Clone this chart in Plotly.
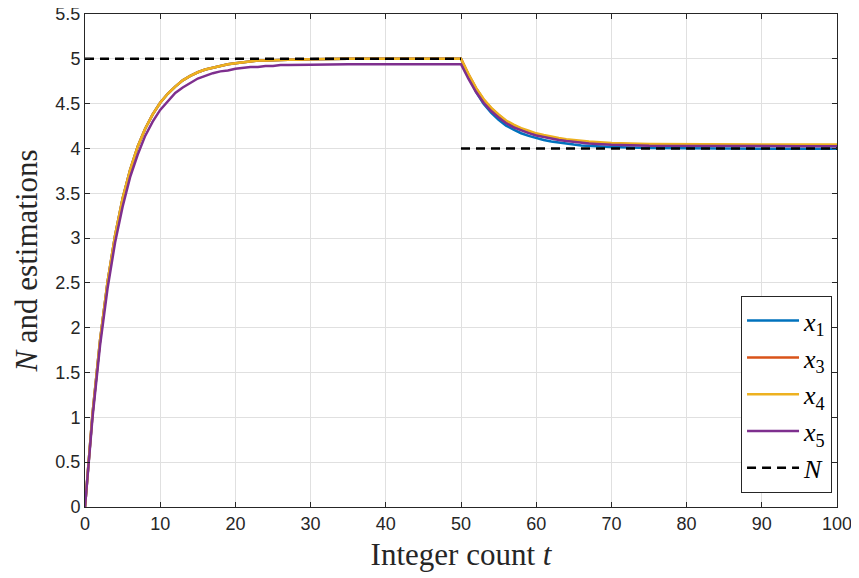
import plotly.graph_objects as go

# time samples
t = list(range(0, 31)) + [35, 40, 45, 50] + list(range(51, 71)) + [75, 80, 85, 90, 95, 100]

rise_top = [0, 1.04, 1.86, 2.51, 3.03, 3.44, 3.76, 4.02, 4.22, 4.38, 4.51, 4.61, 4.69, 4.76,
            4.81, 4.85, 4.88, 4.90, 4.92, 4.94, 4.95, 4.96, 4.97, 4.98, 4.98, 4.985, 4.99,
            4.99, 4.99, 4.995, 4.995, 5.0, 5.0, 5.0, 5.0]

x1 = rise_top + [4.80, 4.63, 4.50, 4.40, 4.32, 4.255, 4.21, 4.17, 4.14, 4.115, 4.095, 4.078,
                 4.064, 4.053, 4.043, 4.034, 4.028, 4.023, 4.018, 4.015,
                 4.004, 4.0, 3.998, 3.998, 3.998, 3.998]
x3 = rise_top + [4.826, 4.672, 4.546, 4.450, 4.373, 4.305, 4.257, 4.218, 4.189, 4.160, 4.141,
                 4.122, 4.107, 4.095, 4.083, 4.074, 4.067, 4.061, 4.056, 4.052,
                 4.041, 4.037, 4.035, 4.035, 4.035, 4.035]
x4 = rise_top + [4.83, 4.675, 4.551, 4.456, 4.379, 4.312, 4.265, 4.226, 4.198, 4.169, 4.150,
                 4.131, 4.117, 4.104, 4.093, 4.083, 4.077, 4.071, 4.066, 4.062,
                 4.051, 4.047, 4.045, 4.045, 4.045, 4.045]
x5 = [0, 1.00, 1.80, 2.44, 2.95, 3.35, 3.68, 3.93, 4.14, 4.30, 4.43, 4.53, 4.62, 4.68, 4.73,
      4.78, 4.81, 4.84, 4.86, 4.87, 4.89, 4.90, 4.91, 4.91, 4.92, 4.92, 4.93, 4.93, 4.93,
      4.93, 4.935, 4.94, 4.94, 4.94, 4.94] + \
     [4.775, 4.629, 4.510, 4.418, 4.345, 4.281, 4.235, 4.199, 4.171, 4.144, 4.126, 4.107,
      4.094, 4.082, 4.071, 4.062, 4.055, 4.050, 4.045, 4.041,
      4.030, 4.027, 4.025, 4.025, 4.025, 4.025]

# true N (piecewise)
n_t = [0, 50, None, 50, 100]
n_v = [5, 5, None, 4, 4]

series = [("<i>x</i><sub>1</sub>", x1, "#0072BD"),
          ("<i>x</i><sub>3</sub>", x3, "#D95319"),
          ("<i>x</i><sub>4</sub>", x4, "#EDB120"),
          ("<i>x</i><sub>5</sub>", x5, "#7E2F8E")]

x_ticks = list(range(0, 101, 10))
y_ticks = [i * 0.5 for i in range(12)]
y_tick_text = ["0", "0.5", "1", "1.5", "2", "2.5", "3", "3.5", "4", "4.5", "5", "5.5"]

SERIF = "Liberation Serif, Times New Roman, serif"

fig = go.Figure()
for i, (name, vals, col) in enumerate(series):
    fig.add_trace(go.Scatter(x=t, y=vals, mode="lines", name=name, legendgroup=f"g{i}",
                             line=dict(color=col, width=2.5)))
fig.add_trace(go.Scatter(x=n_t, y=n_v, mode="lines", name="<i>N</i>", legendgroup="gN",
                         line=dict(color="black", width=2.6, dash="9px,6px"),
                         connectgaps=False))

axis_common = dict(showline=True, linecolor="#262626", linewidth=1, mirror="ticks",
                   ticks="inside", ticklen=5, tickcolor="#262626", automargin=False,
                   ticklabeloverflow="allow",
                   showgrid=True, gridcolor="#e0e0e0", gridwidth=1, zeroline=False,
                   tickfont=dict(family="Liberation Sans, Arial", size=18, color="#262626"))

# the page body has an 8px default margin, so the figure is sized to fit the window
fig.update_layout(
    width=851, height=570,
    margin=dict(l=77, r=22, t=6, b=71),
    paper_bgcolor="white", plot_bgcolor="white",
    xaxis=dict(range=[0, 100], tickvals=x_ticks, ticktext=[str(v) for v in x_ticks],
               title=dict(text="Integer count <i>t</i>", standoff=10,
                          font=dict(family=SERIF, size=31, color="#262626")),
               **axis_common),
    yaxis=dict(range=[0, 5.5], tickvals=y_ticks, ticktext=y_tick_text,
               title=dict(text="<i>N</i> and estimations", standoff=8,
                          font=dict(family=SERIF, size=31, color="#262626")),
               **axis_common),
    legend=dict(x=0.9934, y=0.028, xanchor="right", yanchor="bottom",
                bgcolor="white", bordercolor="#262626", borderwidth=1,
                font=dict(family=SERIF, size=26, color="black"),
                itemwidth=52, tracegroupgap=0),
    showlegend=True,
)

fig.write_html("out.html")
